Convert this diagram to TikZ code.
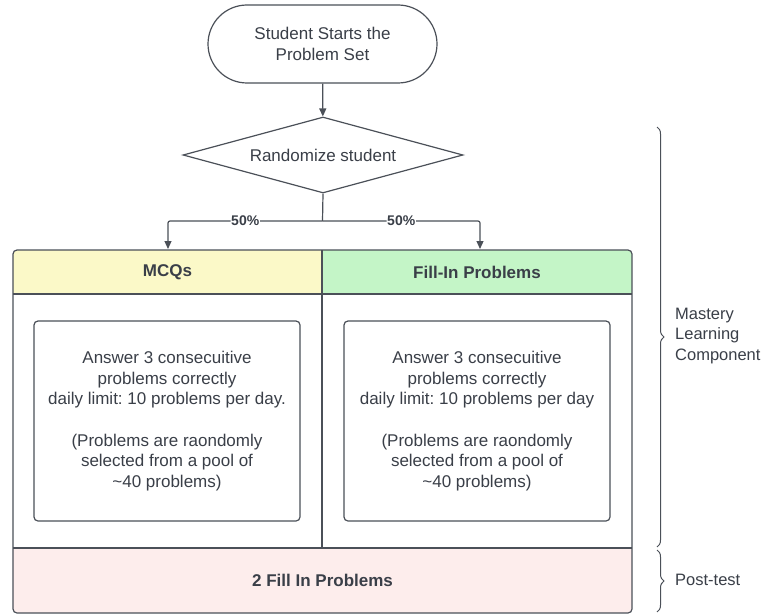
\documentclass[tikz,border=0pt]{standalone}
\usepackage{fontspec}
\setmainfont{Liberation Sans}
\frenchspacing
\usetikzlibrary{shapes.geometric,arrows.meta,decorations.pathreplacing}
\definecolor{ink}{HTML}{3A3F48}
\definecolor{edge}{HTML}{4B5058}
\definecolor{yel}{HTML}{FBF9C8}
\definecolor{grn}{HTML}{C4F5C7}
\definecolor{pnk}{HTML}{FDEDEC}
\tikzset{
  txt/.style={text=ink, font=\fontsize{17}{20.7}\selectfont, align=center},
  hdr/.style={text=ink, font=\fontsize{17}{20}\selectfont\bfseries, inner sep=0pt},
  ln/.style={draw=edge, line width=1.2pt},
  arr/.style={ln, -{Triangle[width=7pt,length=8pt]}},
  innerbox/.style={ln, rounded corners=4pt, minimum width=266pt, minimum height=200pt, txt, inner sep=0pt},
  pct/.style={text=ink, font=\fontsize{14}{16}\selectfont\bfseries, fill=white, inner sep=0.5pt},
  brc/.style={ln, line width=1pt, decorate, decoration={brace, amplitude=7pt}},
  side/.style={text=ink, font=\fontsize{16.5}{20.5}\selectfont, align=left, anchor=west, inner sep=0pt}
}
\begin{document}
\begin{tikzpicture}[x=1pt,y=-1pt]
\useasboundingbox (0,0) rectangle (765,615);
\fill[white] (0,0) rectangle (765,615);

\node[ln, txt, rounded corners=39pt, minimum width=229pt, minimum height=78pt, inner sep=0pt] (start) at (322.5,44) {Student Starts the\\Problem Set};
\node[ln, txt, diamond, minimum width=280pt, minimum height=76pt, inner sep=0pt, aspect=3.6] (dia) at (323,155) {Randomize student};

\draw[arr] (start) -- (dia);

% table
\begin{scope}
\clip[rounded corners=4pt] (13,250) rectangle (632,613);
\fill[white] (13,250) rectangle (632,613);
\node[fill=yel, minimum width=309pt, minimum height=44pt, inner sep=0pt] (mcqcell) at (167.5,272) {};
\node[fill=grn, minimum width=310pt, minimum height=44pt, inner sep=0pt] (fillcell) at (477,272) {};
\node[fill=pnk, minimum width=619pt, minimum height=65pt, inner sep=0pt] (postcell) at (322.5,580.5) {};
\end{scope}
\node[hdr] (mcq) at (167.5,272) {MCQs};
\node[hdr] (fill) at (477,272) {Fill-In Problems};
\node[hdr] (post) at (322.5,580) {2 Fill In Problems};
\draw[ln] (13,294) -- (632,294);
\draw[ln] (13,548) -- (632,548);
\draw[ln] (322,250) -- (322,548);
\draw[ln, rounded corners=4pt] (13,250) rectangle (632,613);

\node[innerbox] (lbox) at (167,421) {Answer 3 consecuitive\\problems correctly\\daily limit: 10 problems per day.\\[20.7pt](Problems are raondomly\\selected from a pool of\\\textasciitilde 40 problems)};
\node[innerbox] (rbox) at (477,421) {Answer 3 consecuitive\\problems correctly\\daily limit: 10 problems per day\\[20.7pt](Problems are raondomly\\selected from a pool of\\\textasciitilde 40 problems)};

% split arrows
\coordinate (split) at (322.5,221);
\coordinate (lend) at (168,249);
\coordinate (rend) at (480,249);
\draw[ln] (dia.south) -- (split);
\draw[arr, rounded corners=2pt] (split) -| node[pct, pos=0.25] {50\%} (lend);
\draw[arr, rounded corners=2pt] (split) -| node[pct, pos=0.25] {50\%} (rend);

% braces
\coordinate (b1t) at (657,127);
\coordinate (b1b) at (657,547);
\coordinate (b2t) at (657,550);
\coordinate (b2b) at (657,612);
\draw[brc] (b1t) -- (b1b);
\draw[brc] (b2t) -- (b2b);
\node[side] (mlc) at (675,336) {Mastery\\Learning\\Component};
\node[side] (pt) at (675,580) {Post-test};
\end{tikzpicture}
\end{document}
